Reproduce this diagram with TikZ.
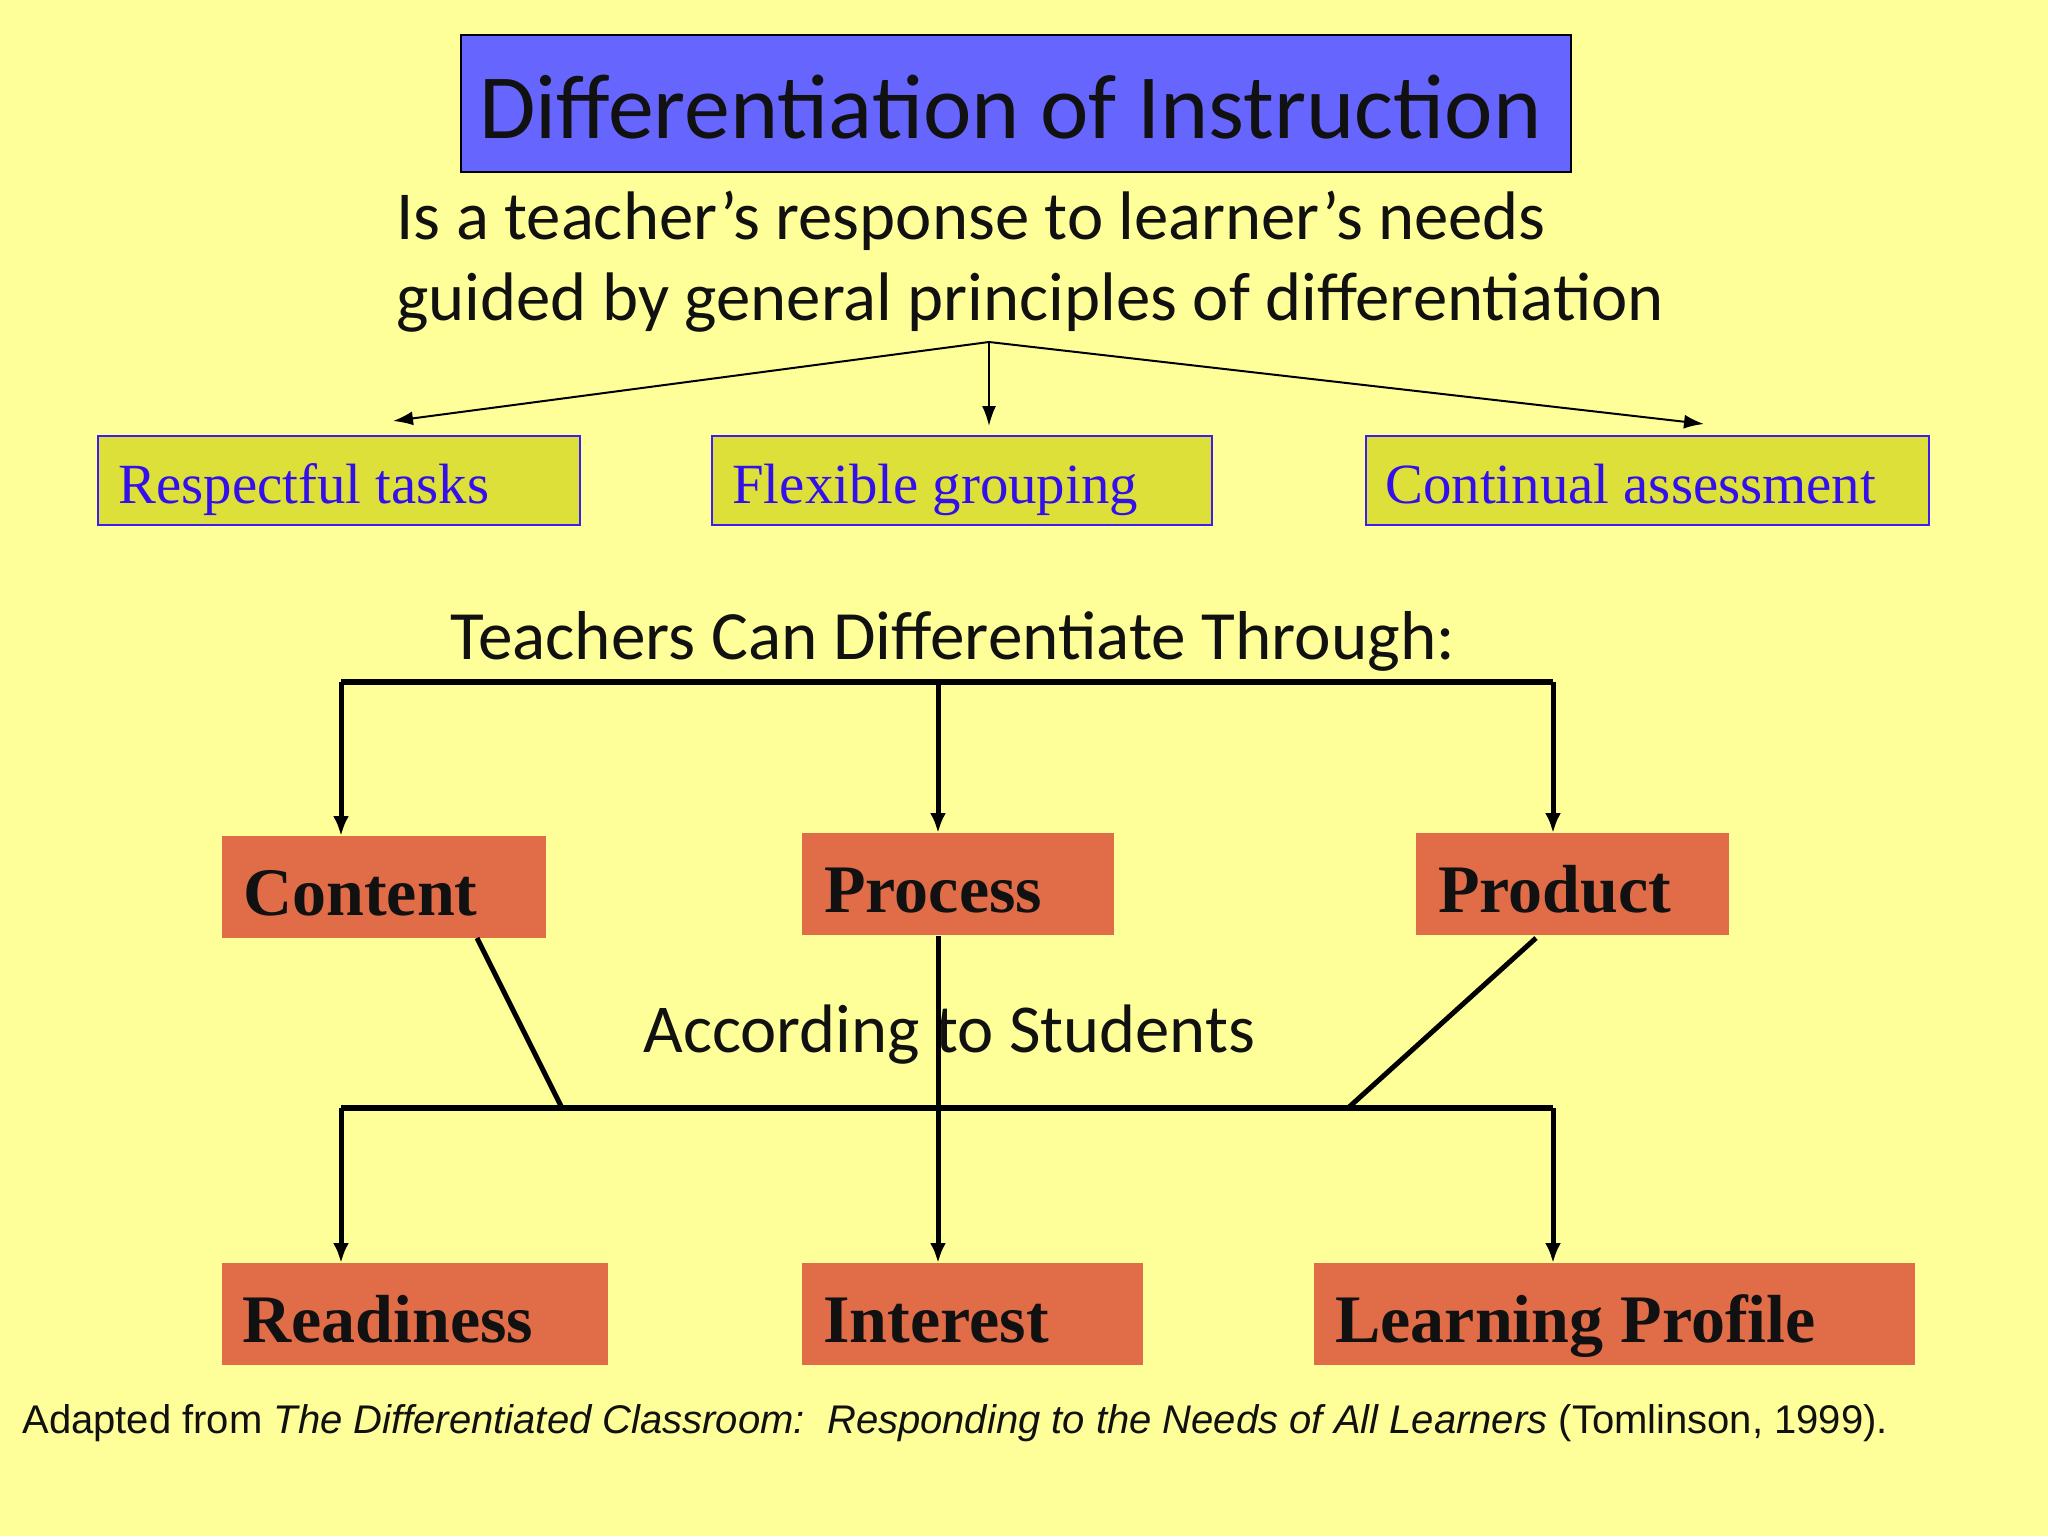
\documentclass[tikz,border=0pt]{standalone}
\usepackage{fontspec}
\setmainfont{Liberation Serif}
\newfontfamily\calibfont{Carlito}
\newfontfamily\arialfont{Liberation Sans}
\usetikzlibrary{arrows.meta}
\definecolor{bgyellow}{RGB}{255,255,153}
\definecolor{titleblue}{RGB}{102,102,255}
\definecolor{boxgreen}{RGB}{220,224,56}
\definecolor{edgeblue}{RGB}{60,30,240}
\definecolor{txtblue}{RGB}{50,15,235}
\definecolor{boxorange}{RGB}{225,108,72}
\definecolor{txtblack}{RGB}{17,17,17}
\begin{document}
\begin{tikzpicture}[x=0.5pt,y=-0.5pt,
  titlebox/.style={draw=black, line width=0.8pt, fill=titleblue, anchor=north west, inner sep=0pt},
  greenbox/.style={draw=edgeblue, line width=1pt, fill=boxgreen, anchor=north west, inner sep=0pt, minimum height=44.5pt},
  orangebox/.style={fill=boxorange, anchor=north west, inner sep=0pt, minimum height=51pt},
  greentxt/.style={anchor=base west, inner sep=0pt, text=txtblue, font=\fontsize{28.4}{32}\selectfont},
  orangetxt/.style={anchor=base west, inner sep=0pt, text=txtblack, font=\bfseries\fontsize{34}{40}\selectfont},
  midtxt/.style={anchor=base west, inner sep=0pt, text=txtblack, font=\calibfont\fontsize{34.6}{40.5}\selectfont},
  subtxt/.style={anchor=base west, inner sep=0pt, text=txtblack, font=\calibfont\fontsize{34.35}{40.5}\selectfont},
  thinarrow/.style={line width=1pt, -{Latex[length=10pt,width=7pt]}},
  mainarrow/.style={line width=2.5pt, -{Latex[length=10pt,width=8pt]}},
  mainline/.style={line width=2.5pt},
  barline/.style={line width=3pt}]
\fill[bgyellow] (0,0) rectangle (2048,1536);
\useasboundingbox (0,0) rectangle (2048,1536);

% title
\node[titlebox, minimum width=555pt, minimum height=68.5pt] (titlebox) at (460,34) {};
\node[anchor=base west, inner sep=0pt, text=txtblack, font=\calibfont\fontsize{45.9}{54}\selectfont] (title) at (479,138) {Differentiation of Instruction};

% subtitle
\node[subtxt] (sub1) at (396,239) {Is a teacher’s response to learner’s needs};
\node[subtxt] (sub2) at (396,320) {guided by general principles of differentiation};

% principle boxes
\node[greenbox, minimum width=241pt] (resp) at (97,435) {};
\node[greenbox, minimum width=250pt] (flex) at (711,435) {};
\node[greenbox, minimum width=281.5pt] (cont) at (1365,435) {};
\node[greentxt] (respT) at (118,503) {Respectful tasks};
\node[greentxt] (flexT) at (732,503) {Flexible grouping};
\node[greentxt] (contT) at (1385,503) {Continual assessment};

\coordinate (src) at (989,342);
\coordinate (tipL) at (393,421);
\coordinate (tipM) at (989,426);
\coordinate (tipR) at (1704,424);
\draw[thinarrow] (src) -- (tipL);
\draw[thinarrow] (src) -- (tipM);
\draw[thinarrow] (src) -- (tipR);

% through
\node[midtxt] (through) at (450,659) {Teachers Can Differentiate Through:};

\node[orangebox, minimum width=162pt] (content) at (222,836) {};
\node[orangebox, minimum width=156pt] (process) at (802,833) {};
\node[orangebox, minimum width=156.5pt] (product) at (1416,833) {};
\node[orangetxt] (contentT) at (243,915) {Content};
\node[orangetxt] (processT) at (824,912) {Process};
\node[orangetxt] (productT) at (1438,912) {Product};

\coordinate (barL) at (341,682);
\coordinate (barM) at (938,682);
\coordinate (barR) at (1553,682);
\draw[barline] (barL) -- (barR);
\draw[mainarrow] (barL) -- (barL |- content.north);
\draw[mainarrow] (barM) -- (barM |- process.north);
\draw[mainarrow] (barR) -- (barR |- product.north);

% according to
\node[midtxt, font=\calibfont\fontsize{34.3}{40}\selectfont] (according) at (643,1052) {According to Students};

\node[orangebox, minimum width=193pt] (readiness) at (222,1263) {};
\node[orangebox, minimum width=170.5pt] (interest) at (802,1263) {};
\node[orangebox, minimum width=300.5pt] (profile) at (1314,1263) {};
\node[orangetxt] (readinessT) at (242,1342) {Readiness};
\node[orangetxt] (interestT) at (823,1342) {Interest};
\node[orangetxt] (profileT) at (1335,1342) {Learning Profile};

\coordinate (lowL) at (341,1108);
\coordinate (lowR) at (1553,1108);
\coordinate (joinC) at (562,1108);
\coordinate (joinP) at (1348,1108);
\coordinate (outC) at (477,938);
\coordinate (outP) at (1536,938);
\draw[barline] (lowL) -- (lowR);
\draw[mainline] (outC) -- (joinC);
\draw[mainline] (outP) -- (joinP);
\draw[mainarrow] (process.south -| barM) -- (barM |- interest.north);
\draw[mainarrow] (lowL) -- (lowL |- readiness.north);
\draw[mainarrow] (lowR) -- (lowR |- profile.north);

% citation
\node[anchor=base west, inner sep=0pt, text=txtblack, font=\arialfont\fontsize{20}{24}\selectfont] (cite) at (22,1433) {Adapted from \textit{The Differentiated Classroom:\ \ Responding to the Needs of All Learners} (Tomlinson, 1999).};
\end{tikzpicture}
\end{document}
